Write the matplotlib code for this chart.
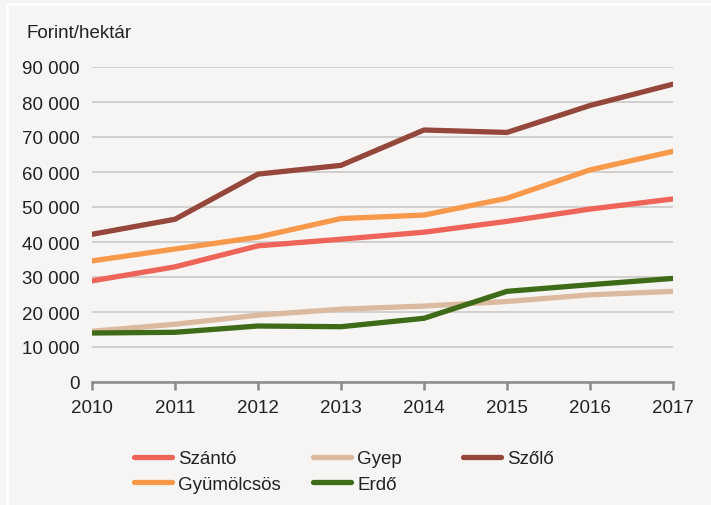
import matplotlib.pyplot as plt
from matplotlib.patches import Rectangle
from matplotlib.ticker import FuncFormatter

plt.rcParams['font.family'] = ['Liberation Sans', 'DejaVu Sans']

years = [2010, 2011, 2012, 2013, 2014, 2015, 2016, 2017]
szanto = [28900, 32900, 38900, 40800, 42800, 45900, 49400, 52300]
gyep = [14500, 16500, 19100, 20800, 21700, 23000, 24900, 25900]
szolo = [42200, 46500, 59400, 61900, 72000, 71300, 79000, 85100]
gyumolcsos = [34600, 38000, 41400, 46700, 47700, 52500, 60600, 65900]
erdo = [14000, 14200, 16000, 15800, 18200, 25900, 27800, 29600]

bg = '#F6F5F3'
fs = 13.5
fig = plt.figure(figsize=(7.11, 5.06), dpi=100, facecolor=bg)
W, H = 711, 506
ax = fig.add_axes([92 / W, (H - 383) / H, 581 / W, 315 / H])
ax.set_facecolor(bg)

lw = 3.8
l_szanto, = ax.plot(years, szanto, color='#EF6458', lw=lw, solid_capstyle='round', label='Szántó')
l_gyep, = ax.plot(years, gyep, color='#DBBA9F', lw=lw, solid_capstyle='round', label='Gyep')
l_szolo, = ax.plot(years, szolo, color='#94473A', lw=lw, solid_capstyle='round', label='Szőlő')
l_gyum, = ax.plot(years, gyumolcsos, color='#F8984A', lw=lw, solid_capstyle='round', label='Gyümölcsös')
l_erdo, = ax.plot(years, erdo, color='#3E6B17', lw=lw, solid_capstyle='round', label='Erdő')

ax.set_xlim(2010, 2017)
ax.set_ylim(0, 90000)
ax.set_xticks(years)
ax.set_yticks(range(0, 90001, 10000))
ax.yaxis.set_major_formatter(FuncFormatter(lambda v, p: f'{int(v):,}'.replace(',', ' ')))
ax.grid(axis='y', color='#C8C6C4', lw=1.1)
ax.set_axisbelow(True)
for s in ['top', 'right', 'left']:
    ax.spines[s].set_visible(False)
ax.spines['bottom'].set_color('#8A8A8A')
ax.spines['bottom'].set_linewidth(1.8)
ax.tick_params(axis='y', length=0, pad=9, labelsize=fs, labelcolor='#222222')
ax.tick_params(axis='x', length=6, width=1.8, color='#8A8A8A', pad=6, labelsize=fs, labelcolor='#222222')

fig.text(27 / W, 1 - 33 / H, 'Forint/hektár', fontsize=fs, color='#222222', va='center', ha='left')

cols = [([l_szanto, l_gyum], 134), ([l_gyep, l_erdo], 313), ([l_szolo], 463)]
for handles, x0 in cols:
    leg = fig.legend(handles=handles, loc='upper left', bbox_to_anchor=(x0 / W, 1 - 451 / H),
                     frameon=False, fontsize=fs, handlelength=2.0, handletextpad=0.35,
                     labelspacing=0.45, borderpad=0, borderaxespad=0)
    for t in leg.get_texts():
        t.set_color('#222222')

fig.add_artist(Rectangle((7 / W, -0.1), 1.2, 1 - 5 / H + 0.1, transform=fig.transFigure,
                         fill=False, edgecolor='white', lw=2))

fig.savefig('out.png', dpi=100, facecolor=bg)
